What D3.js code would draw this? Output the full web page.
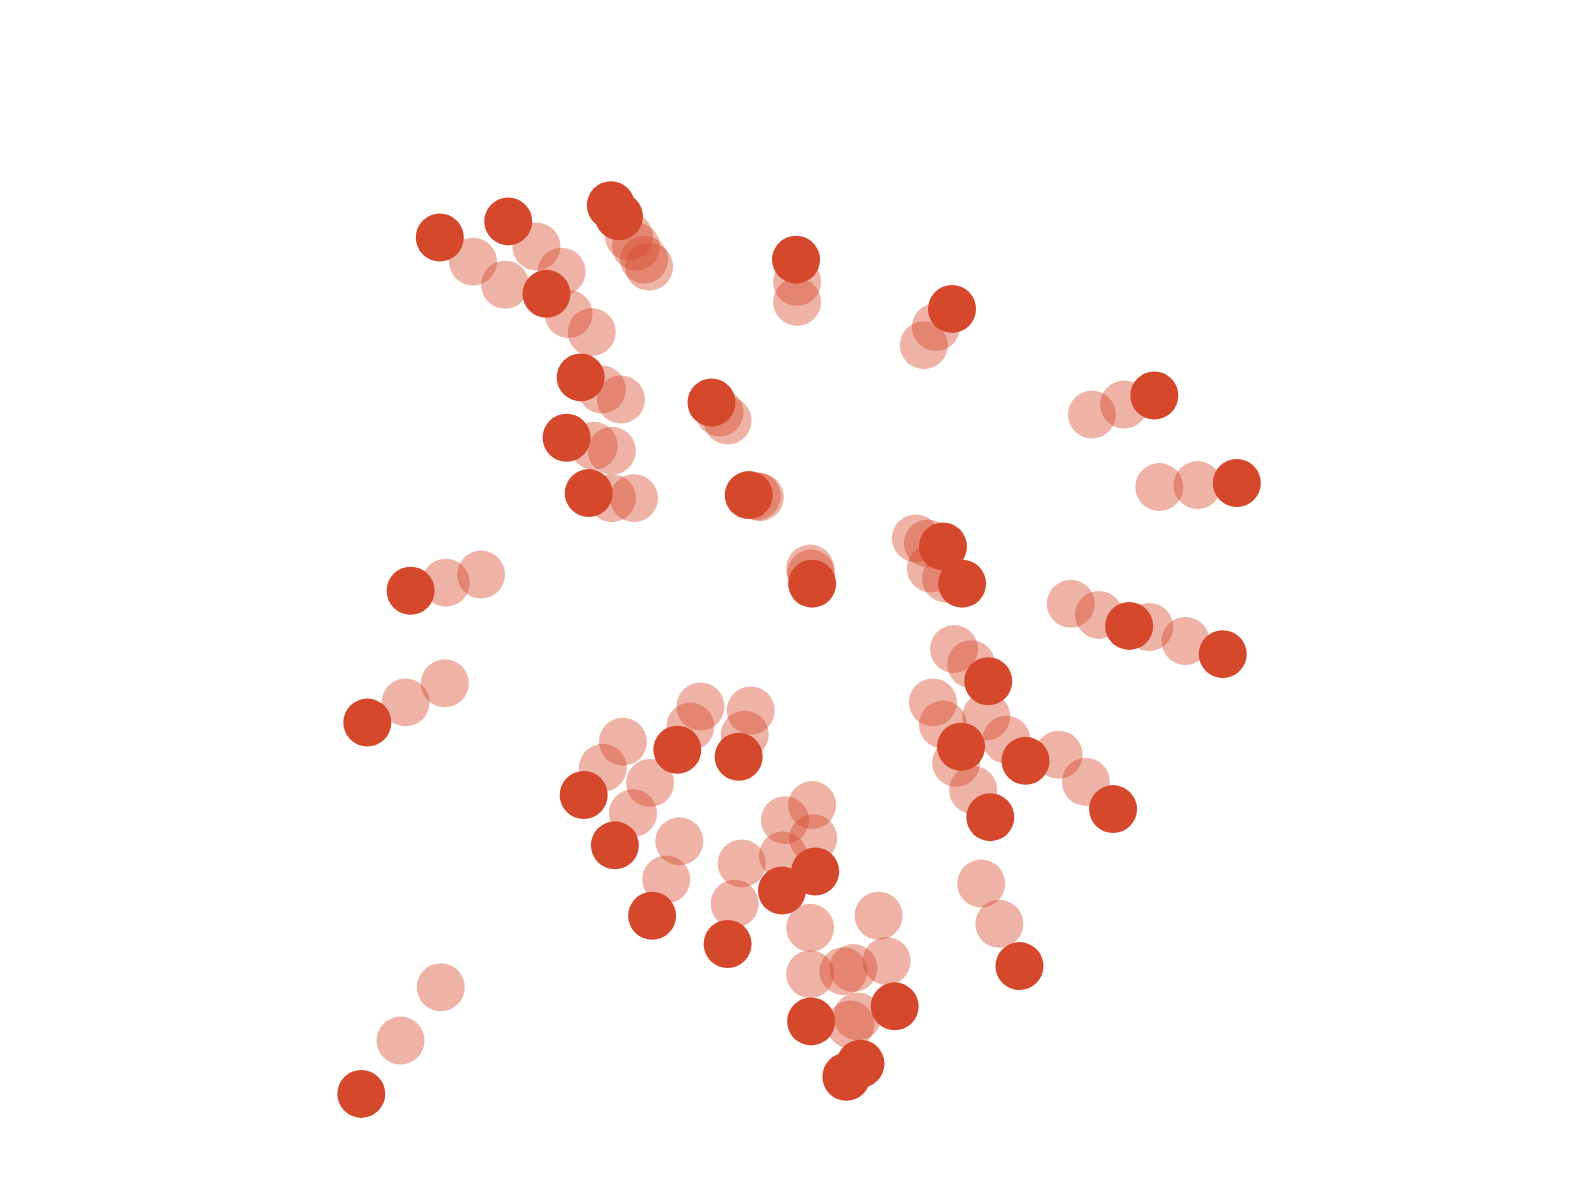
<!DOCTYPE html>
<html>
<head>
<meta charset="utf-8">
<script src="https://cdn.jsdelivr.net/npm/d3@7"></script>
<style>
html,body{margin:0;padding:0;background:#fff;overflow:hidden;}
</style>
</head>
<body>
<svg id="chart" width="1578" height="1189"></svg>
<script>
// Particle positions: current head and two previous (trail) positions
const headX  = [437,505,543,607,615,577,563,585,791,946,707,1147,1229,744,807,937,956,1122,1215,982,955,1019,984,1106,1013,408,365,359,673,734,580,611,648,723,777,810,806,889,841,855];
const headY  = [236,220,292,204,215,375,435,490,258,307,400,393,480,492,580,543,580,622,650,677,742,756,812,804,960,587,718,1087,745,752,790,840,910,938,885,866,1015,1000,1070,1057];
const prev1X = [470,533,565,625,632,598,590,608,792,930,715,1117,1190,752,806,922,940,1092,1178,965,937,1000,967,1079,993,443,403,398,686,740,599,629,662,730,778,808,805,881,845,852];
const prev1Y = [260,245,312,235,245,387,443,495,280,325,410,402,482,493,570,540,575,611,637,660,720,735,785,777,918,579,698,1034,722,730,763,808,874,898,850,833,968,955,1018,1010];
const prev2X = [502,558,588,640,645,617,608,630,792,918,723,1085,1152,755,805,910,925,1064,1142,948,927,980,950,1052,975,478,442,438,696,746,619,646,675,737,780,807,805,873,838,848];
const prev2Y = [283,270,330,258,265,397,448,495,300,343,418,412,484,494,565,535,565,600,623,645,698,712,758,750,878,571,679,981,702,706,737,778,836,858,815,800,922,910,965,962];

const W = 1578, H = 1189;
const color = "#d6482c";
const r = 24;

const x = d3.scaleLinear().domain([0, 1568]).range([0, W]);
const y = d3.scaleLinear().domain([0, 1181.5]).range([0, H]);

const svg = d3.select("#chart");

const trail = [];
headX.forEach((_, i) => {
  trail.push({x: prev2X[i], y: prev2Y[i]});
  trail.push({x: prev1X[i], y: prev1Y[i]});
});
const heads = headX.map((hx, i) => ({x: hx, y: headY[i]}));

svg.append("g").selectAll("circle.trail")
  .data(trail).join("circle")
  .attr("class", "trail")
  .attr("cx", d => x(d.x)).attr("cy", d => y(d.y)).attr("r", r)
  .attr("fill", color).attr("fill-opacity", 0.42);

svg.append("g").selectAll("circle.head")
  .data(heads).join("circle")
  .attr("class", "head")
  .attr("cx", d => x(d.x)).attr("cy", d => y(d.y)).attr("r", r)
  .attr("fill", color);
</script>
</body>
</html>
